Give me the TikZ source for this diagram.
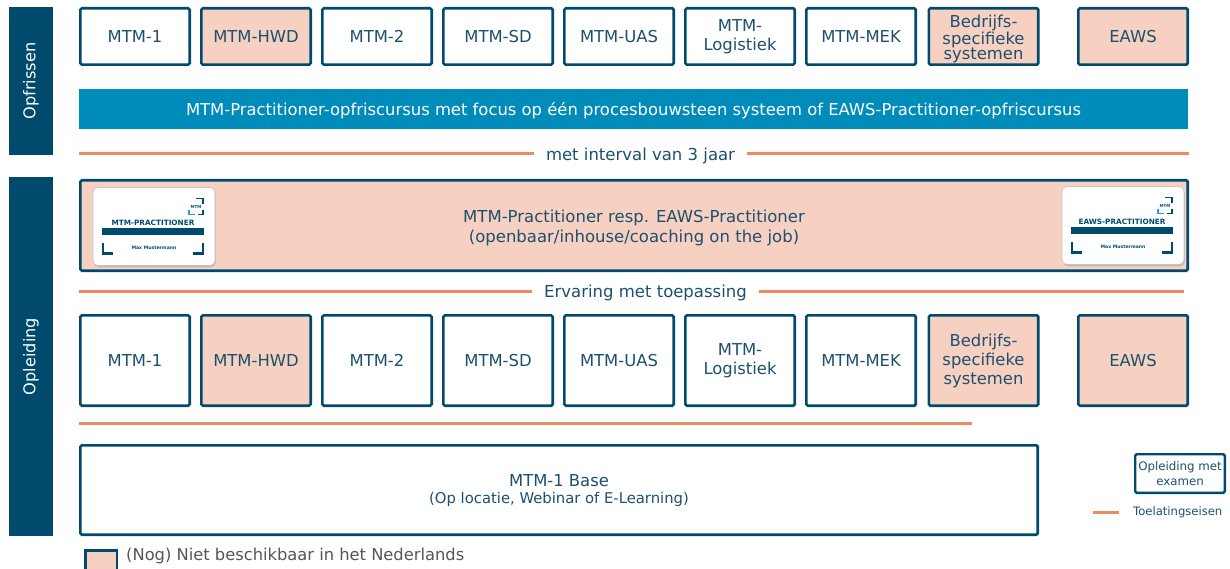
\documentclass[tikz,border=0pt]{standalone}
\usepackage{fontspec}
\setmainfont{DejaVu Sans}
\usetikzlibrary{shadows}
\definecolor{dblue}{HTML}{004A6E}
\definecolor{tblue}{HTML}{1D4F6E}
\definecolor{bblue}{HTML}{008CBA}
\definecolor{lblue}{HTML}{2F9BD0}
\definecolor{peach}{HTML}{F6D1C2}
\definecolor{orng}{HTML}{EB8A63}
\definecolor{gtext}{HTML}{555555}
\tikzset{
 box/.style={draw=dblue,line width=2.6pt,rounded corners=1.5pt,minimum width=109.4pt,text=tblue,font=\fontsize{16.4}{19}\selectfont,align=center,inner sep=0pt},
 topbox/.style={box,minimum height=56.4pt},
 midbox/.style={box,minimum height=90.4pt},
 na/.style={fill=peach},
 oline/.style={draw=orng,line width=3pt},
 olabel/.style={text=tblue,font=\fontsize{16.5}{19}\selectfont,inner xsep=12pt,inner ysep=0pt,text depth=0pt},
 sidebar/.style={fill=dblue,rotate=90,minimum height=44pt,text=white,font=\fontsize{16.2}{19}\selectfont,inner sep=0pt},
 cardpic/.pic={
   \node[fill=white,draw=gray!45,line width=0.6pt,rounded corners=5pt,minimum width=122pt,minimum height=78pt,
         drop shadow={shadow xshift=0.8pt,shadow yshift=-1.8pt,opacity=.35}] (-c) at (0,0) {};
   \node[text=dblue,font=\bfseries\fontsize{7.3}{8}\selectfont,inner sep=0pt] (-t) at (-1,-3.5) {#1};
   \fill[dblue] (-52,1.5) rectangle (50,8.5);
   \node[text=dblue,font=\bfseries\fontsize{4.6}{5}\selectfont,inner sep=0pt] (-n) at (0,21.5) {Max Mustermann};
   \draw[dblue,line width=2.4pt] (-51,16) -- (-51,27) -- (-41,27);
   \draw[dblue,line width=2.4pt] (49,16) -- (49,27) -- (39,27);
   \draw[dblue,line width=1.6pt] (42,-28) -- (49,-28) -- (49,-22);
   \draw[lblue,line width=1.6pt] (35,-16) -- (35,-12) -- (41,-12);
   \draw[dblue,line width=1.6pt] (49,-16) -- (49,-12) -- (44,-12);
   \node[text=dblue,font=\bfseries\fontsize{4}{5}\selectfont,inner sep=0pt] (-l) at (42,-19) {MTM};
 }
}
\begin{document}
\begin{tikzpicture}[x=1pt,y=-1pt]
\useasboundingbox (0,0) rectangle (1230,569);

% side bars
\node[sidebar,minimum width=148pt] (opf) at (31,81) {Opfrissen};
\node[sidebar,minimum width=359pt] (opl) at (31,356.5) {Opleiding};

% top row
\node[topbox] (t1) at (135,36.5) {MTM-1};
\node[topbox,na] (t2) at (256,36.5) {MTM-HWD};
\node[topbox] (t3) at (377,36.5) {MTM-2};
\node[topbox] (t4) at (498,36.5) {MTM-SD};
\node[topbox] (t5) at (619,36.5) {MTM-UAS};
\node[topbox] (t6) at (740,36.5) {MTM-\\Logistiek};
\node[topbox] (t7) at (861,36.5) {MTM-MEK};
\node[topbox,na] (t8) at (983.5,36.5) {};
\node[text=tblue,align=center,inner sep=0pt,font=\fontsize{16.4}{15}\selectfont] (t8t) at (983.5,39) {Bedrijfs-\\specifieke\\systemen};
\node[topbox,na] (t9) at (1133,36.5) {EAWS};

% refresher bar
\node[fill=bblue,minimum width=1109pt,minimum height=40pt,inner sep=0pt,text=white,font=\fontsize{16.4}{19}\selectfont,text height=14pt,text depth=0pt] (bar) at (633.5,109) {MTM-Practitioner-opfriscursus met focus op één procesbouwsteen systeem of EAWS-Practitioner-opfriscursus};

% line 1
\coordinate (o1s) at (79,154);
\coordinate (o1e) at (1189,154);
\node[olabel,text height=14pt] (l1) at (640.5,154) {met interval van 3 jaar};
\draw[oline] (o1s) -- (l1.west);
\draw[oline] (l1.east) -- (o1e);

% practitioner box
\node[box,na,minimum width=1107.4pt,minimum height=90.4pt] (prac) at (634,225.5) {};
\node[text=tblue,align=center,inner sep=0pt,font=\fontsize{16.5}{20}\selectfont] (pract) at (634,227.5) {MTM-Practitioner resp. EAWS-Practitioner\\(openbaar/inhouse/coaching on the job)};
\pic (cl) at (154,226.5) {cardpic=MTM-PRACTITIONER};
\pic (cr) at (1123,225.5) {cardpic=EAWS-PRACTITIONER};

% line 2
\coordinate (o2s) at (79,291);
\coordinate (o2e) at (1184,291);
\node[olabel,text height=13pt] (l2) at (645.5,291) {Ervaring met toepassing};
\draw[oline] (o2s) -- (l2.west);
\draw[oline] (l2.east) -- (o2e);

% middle row
\node[midbox] (m1) at (135,360.5) {MTM-1};
\node[midbox,na] (m2) at (256,360.5) {MTM-HWD};
\node[midbox] (m3) at (377,360.5) {MTM-2};
\node[midbox] (m4) at (498,360.5) {MTM-SD};
\node[midbox] (m5) at (619,360.5) {MTM-UAS};
\node[midbox] (m6) at (740,360.5) {MTM-\\Logistiek};
\node[midbox] (m7) at (861,360.5) {MTM-MEK};
\node[midbox,na] (m8) at (983.5,360.5) {Bedrijfs-\\specifieke\\systemen};
\node[midbox,na] (m9) at (1133,360.5) {EAWS};

% line 3
\coordinate (o3s) at (79,423);
\coordinate (o3e) at (972,423);
\draw[oline] (o3s) -- (o3e);

% base box
\node[box,minimum width=957.4pt,minimum height=89.4pt] (base) at (559,490) {};
\node[text=tblue,align=center,inner sep=0pt,font=\fontsize{16.4}{19}\selectfont] (baset) at (559,491) {MTM-1 Base\\[-2pt]{\fontsize{14.8}{17}\selectfont (Op locatie, Webinar of E-Learning)}};

% legend
\node[box,line width=2.4pt,minimum width=89.6pt,minimum height=38.6pt,font=\fontsize{11.8}{15}\selectfont] (leg1) at (1180,473.5) {Opleiding met\\examen};
\coordinate (lgs) at (1093,512);
\coordinate (lge) at (1119,512);
\draw[oline] (lgs) -- (lge);
\node[text=tblue,font=\fontsize{11.6}{14}\selectfont,inner sep=0pt,anchor=west] (leg2) at (1133,512.5) {Toelatingseisen};

\node[draw=dblue,fill=peach,line width=2.6pt,minimum width=31.4pt,minimum height=30pt,inner sep=0pt,anchor=north west] (leg3) at (84.3,549.3) {};
\node[text=gtext,font=\fontsize{16.3}{18}\selectfont,inner sep=0pt,anchor=west] (leg4) at (126,556) {(Nog) Niet beschikbaar in het Nederlands};
\end{tikzpicture}
\end{document}
